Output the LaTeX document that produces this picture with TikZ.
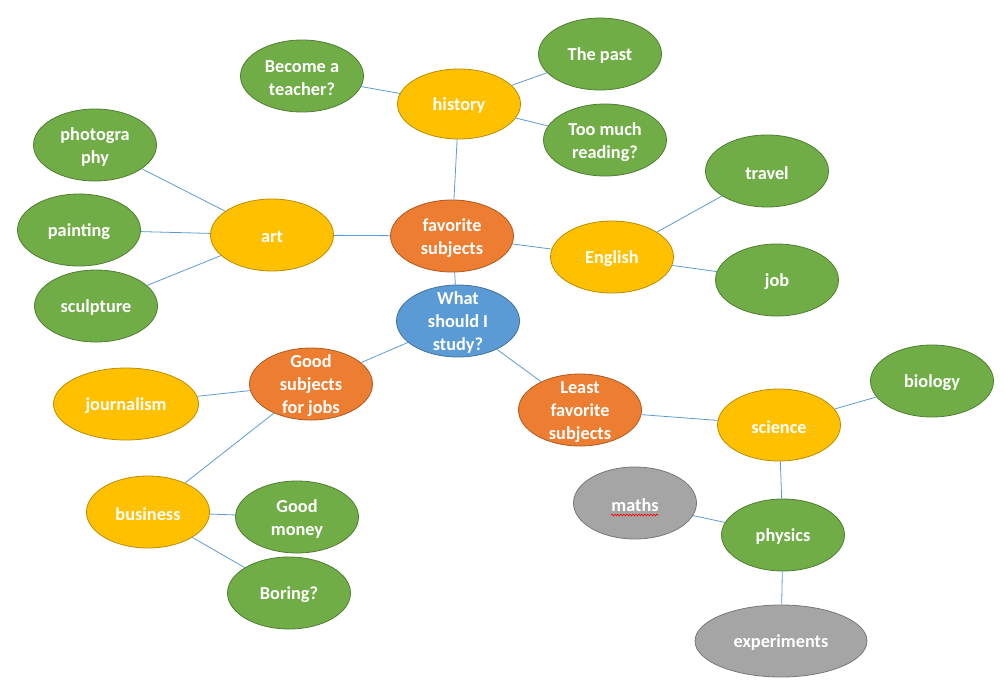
\documentclass[tikz,border=0pt]{standalone}
\usepackage{fontspec}
\setmainfont{Carlito}
\usetikzlibrary{shapes.geometric,decorations.pathmorphing}
\definecolor{cOrange}{HTML}{ED7D31}
\definecolor{cOrangeB}{HTML}{AE5A21}
\definecolor{cBlue}{HTML}{5B9BD5}
\definecolor{cBlueB}{HTML}{41719C}
\definecolor{cGold}{HTML}{FFC000}
\definecolor{cGoldB}{HTML}{BC8C00}
\definecolor{cGreen}{HTML}{70AD47}
\definecolor{cGreenB}{HTML}{507E32}
\definecolor{cGray}{HTML}{A5A5A5}
\definecolor{cGrayB}{HTML}{787878}
\definecolor{cLine}{HTML}{5B9BD5}
\tikzset{
  txt/.style={text=white, font=\fontsize{18.3}{23}\selectfont\bfseries, align=center, inner sep=0pt, yshift=-2pt},
  ell/.style={ellipse, inner sep=0pt, minimum width=123pt, minimum height=72pt, line width=0.8pt},
  orangeell/.style={ell, fill=cOrange, draw=cOrangeB},
  blueell/.style={ell, fill=cBlue, draw=cBlueB},
  goldell/.style={ell, fill=cGold, draw=cGoldB},
  greenell/.style={ell, fill=cGreen, draw=cGreenB},
  grayell/.style={ell, fill=cGray, draw=cGrayB},
  conn/.style={draw=cLine, line width=0.8pt},
}
\begin{document}
\begin{tikzpicture}[x=1pt,y=-1pt]
\useasboundingbox (0,0) rectangle (1004,686);
% centre nodes
\node[orangeell, label={[txt]center:favorite\\subjects}] (fav) at (452,236) {};
\node[blueell, label={[txt]center:What\\should I\\study?}] (what) at (458,321) {};
\node[orangeell, label={[txt]center:Good\\subjects\\for jobs}] (good) at (311,384) {};
\node[orangeell, label={[txt]center:Least\\favorite\\subjects}] (least) at (580,410) {};
% second level
\node[goldell, label={[txt]center:history}, minimum height=70pt] (history) at (459,104) {};
\node[goldell, label={[txt]center:art}] (art) at (272,235) {};
\node[goldell, label={[txt]center:English}] (english) at (612,257) {};
\node[goldell, label={[txt]center:journalism}, minimum width=145pt] (journalism) at (126,404) {};
\node[goldell, label={[txt]center:business}] (business) at (148,512) {};
\node[goldell, label={[txt]center:science}] (science) at (779,425) {};
% leaves
\node[greenell, label={[txt]center:Become a\\teacher?}] (teacher) at (302,76) {};
\node[greenell, label={[txt]center:The past}] (past) at (600,54) {};
\node[greenell, label={[txt]center:Too much\\reading?}] (reading) at (605,140) {};
\node[greenell, label={[txt]center:photogra\\phy}] (photo) at (95,145) {};
\node[greenell, label={[txt]center:painting}] (painting) at (79,230) {};
\node[greenell, label={[txt]center:sculpture}] (sculpture) at (96,306) {};
\node[greenell, label={[txt]center:travel}] (travel) at (767,171) {};
\node[greenell, label={[txt]center:job}] (job) at (777,280) {};
\node[greenell, label={[txt]center:Good\\money}] (money) at (297,517) {};
\node[greenell, label={[txt]center:Boring?}] (boring) at (289,593) {};
\node[greenell, label={[txt]center:biology}] (biology) at (932,381) {};
\node[greenell, label={[txt]center:physics}] (physics) at (783,535) {};
\node[grayell, label={[txt]center:maths}] (maths) at (635,503) {};
\node[grayell, label={[txt]center:experiments}, minimum width=172pt] (exper) at (781,641) {};
% spelling underline
\draw[red, line width=0.6pt, decorate, decoration={snake, amplitude=0.9pt, segment length=3pt}]
  ([shift={(-24,12)}]maths.center) -- ([shift={(23,12)}]maths.center);
% connectors
\draw[conn] (fav) -- (history);
\draw[conn] (fav) -- (art);
\draw[conn] (fav) -- (english);
\draw[conn] (fav) -- (what);
\draw[conn] (what) -- (good);
\draw[conn] (what) -- (least);
\draw[conn] (history) -- (teacher);
\draw[conn] (history) -- (past);
\draw[conn] (history) -- (reading);
\draw[conn] (art) -- (photo);
\draw[conn] (art) -- (painting);
\draw[conn] (art) -- (sculpture);
\draw[conn] (english) -- (travel);
\draw[conn] (english) -- (job);
\draw[conn] (good) -- (journalism);
\draw[conn] (good) -- (business);
\draw[conn] (business) -- (money);
\draw[conn] (business) -- (boring);
\draw[conn] (least) -- (science);
\draw[conn] (science) -- (biology);
\draw[conn] (science) -- (physics);
\draw[conn] (physics) -- (maths);
\draw[conn] (physics) -- (exper);
\end{tikzpicture}
\end{document}
